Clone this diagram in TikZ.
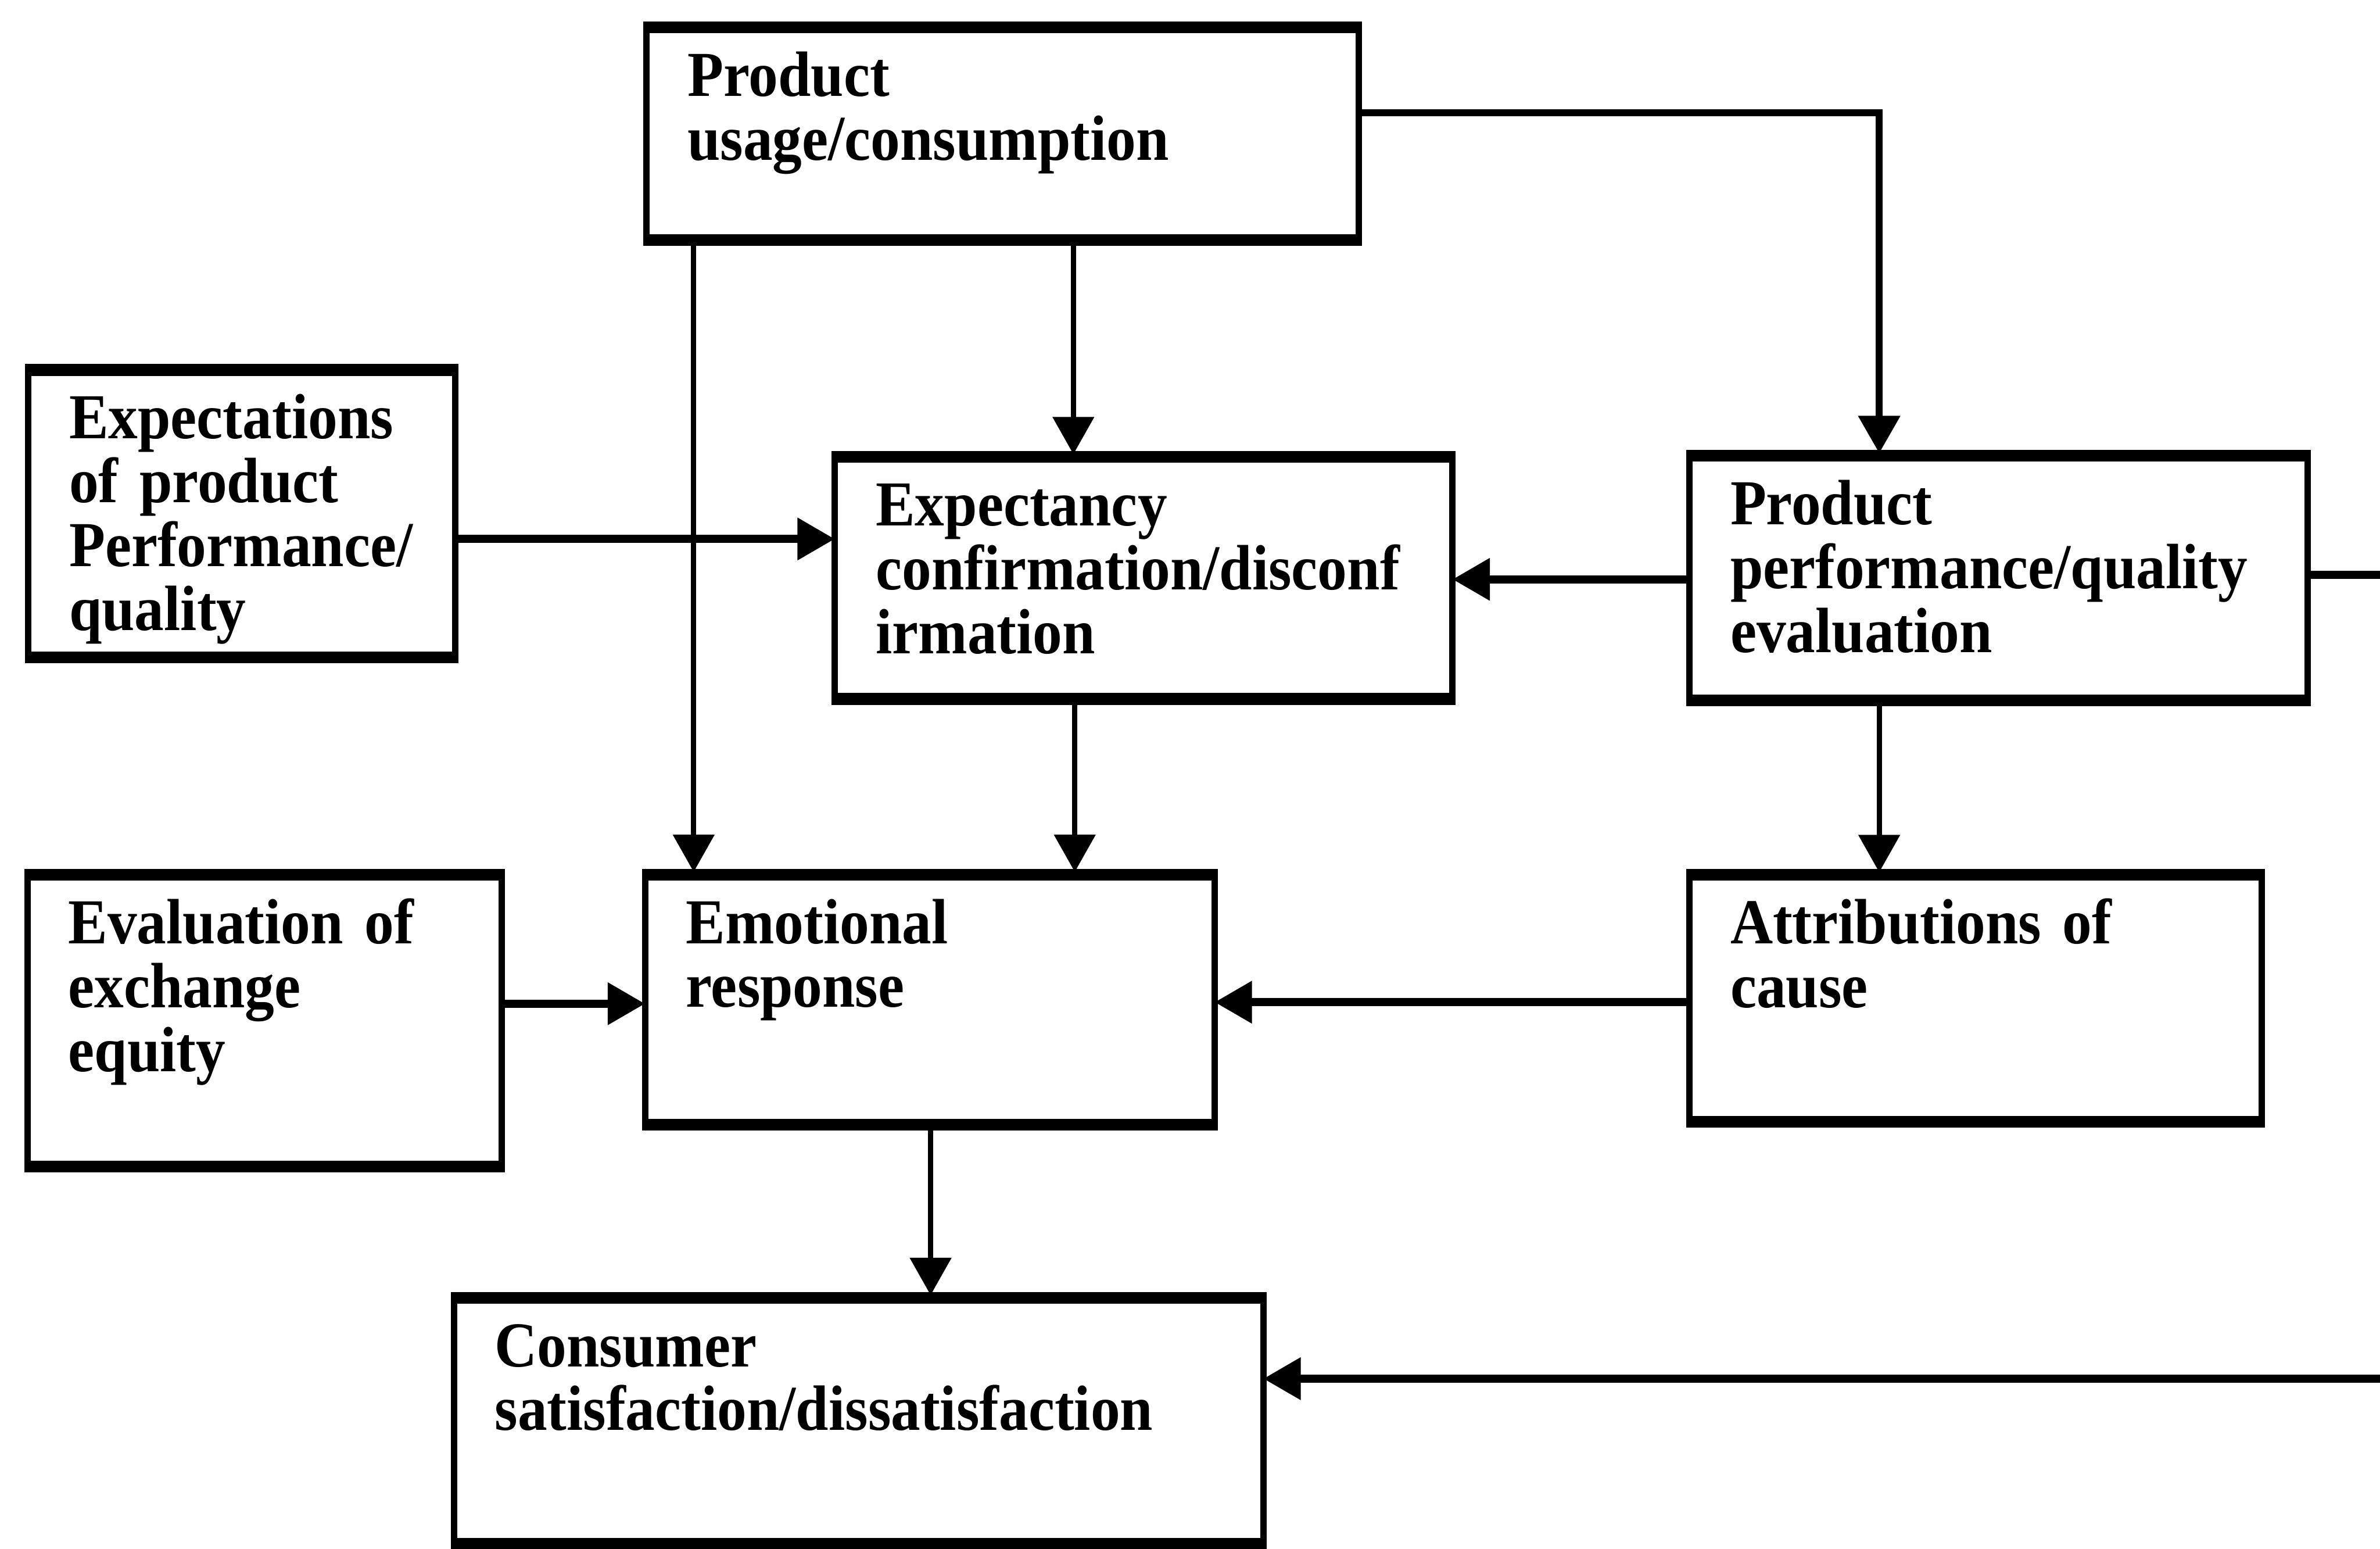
\documentclass[tikz,border=0pt]{standalone}
\usepackage{fontspec}
\newfontfamily\boxfont{Liberation Serif}[UprightFont=* Bold, FakeStretch=0.92, WordSpace=0.85]
\usetikzlibrary{arrows.meta}
\hyphenpenalty=10000
\exhyphenpenalty=10000
\newcommand\boxpad{\leftskip=0.27cm\relax}
\tikzset{
  box/.style={draw, line width=1.2pt, rectangle, anchor=north west, outer sep=0pt,
    inner sep=0pt, align=left, text height=0.47cm,
    font=\boxfont\fontsize{12pt}{11.95pt}\selectfont,
    path picture={\draw[line width=3.2pt]
      (path picture bounding box.north west) -- (path picture bounding box.north east)
      (path picture bounding box.south west) -- (path picture bounding box.south east);}},
  tip/.style={-{Triangle[length=7pt,width=7.6pt]}},
  vc/.style={line width=1.0pt, tip},
  hc/.style={line width=1.5pt, tip},
  hv/.style={line width=1.3pt, tip},
  hl/.style={line width=1.5pt}
}
\begin{document}
\begin{tikzpicture}[x=0.01cm, y=-0.01cm]
\useasboundingbox (0,0) rectangle (1568,1020);

\node[box, text width=4.69cm, minimum width=4.69cm, minimum height=1.434cm, text depth=0.964cm]
  (pu) at (426,16.3) {\boxpad Product\\usage/consumption\par};
\node[box, text width=2.81cm, minimum width=2.81cm, minimum height=1.927cm, text depth=1.457cm]
  (ex) at (18.6,241.9) {\boxpad Expectations\\of product\\Performance/\\quality\par};
\node[box, text width=4.067cm, minimum width=4.067cm, minimum height=1.628cm, text depth=1.158cm]
  (ec) at (550,299.2) {\boxpad Expectancy\\confirmation/disconf\\irmation\par};
\node[box, text width=4.07cm, minimum width=4.07cm, minimum height=1.643cm, text depth=1.173cm]
  (pp) at (1113,298.5) {\boxpad Product\\performance/quality\\evaluation\par};
\node[box, text width=3.125cm, minimum width=3.125cm, minimum height=1.955cm, text depth=1.485cm]
  (ev) at (18,574.5) {\boxpad Evaluation of\\exchange\\equity\par};
\node[box, text width=3.75cm, minimum width=3.75cm, minimum height=1.682cm, text depth=1.212cm]
  (em) at (425,574.3) {\boxpad Emotional\\response\par};
\node[box, text width=3.77cm, minimum width=3.77cm, minimum height=1.66cm, text depth=1.19cm]
  (at) at (1113,574.5) {\boxpad Attributions of\\cause\par};
\node[box, text width=5.33cm, minimum width=5.33cm, minimum height=1.655cm, text depth=1.185cm]
  (cs) at (299,853) {\boxpad Consumer\\satisfaction/dissatisfaction\par};

% connectors
\coordinate (pu-r) at ([yshift=-0.58cm]pu.north east);
\coordinate (pp-t) at ([xshift=1.25cm]pp.north west);
\draw[hv] (pu-r) -| (pp-t);

\coordinate (pu-b1) at ([xshift=0.31cm]pu.south west);
\coordinate (pu-b2) at ([xshift=2.81cm]pu.south west);
\draw[vc] (pu-b1) -- (pu-b1 |- em.north);
\draw[vc] (pu-b2) -- (pu-b2 |- ec.north);

\coordinate (ex-r) at ([yshift=-1.13cm]ex.north east);
\draw[hc] (ex-r) -- (ex-r -| ec.west);

\coordinate (pp-l) at ([yshift=-0.83cm]pp.north west);
\draw[hc] (pp-l) -- (pp-l -| ec.east);

\coordinate (ec-b) at ([xshift=1.58cm]ec.south west);
\draw[vc] (ec-b) -- (ec-b |- em.north);

\coordinate (pp-b) at ([xshift=1.25cm]pp.south west);
\draw[vc] (pp-b) -- (pp-b |- at.north);

\coordinate (ev-r) at ([yshift=-0.865cm]ev.north east);
\draw[hc] (ev-r) -- (ev-r -| em.west);

\coordinate (at-l) at ([yshift=-0.855cm]at.north west);
\draw[hc] (at-l) -- (at-l -| em.east);

\coordinate (em-b) at ([xshift=1.88cm]em.south west);
\draw[vc] (em-b) -- (em-b |- cs.north);

\coordinate (pp-r) at ([yshift=-0.80cm]pp.north east);
\coordinate (outR) at (1580,379);
\draw[hl] (pp-r) -- (pp-r -| outR);

\coordinate (inR) at (1580,908);
\draw[hc] (inR) -- (inR -| cs.east);
\end{tikzpicture}
\end{document}
